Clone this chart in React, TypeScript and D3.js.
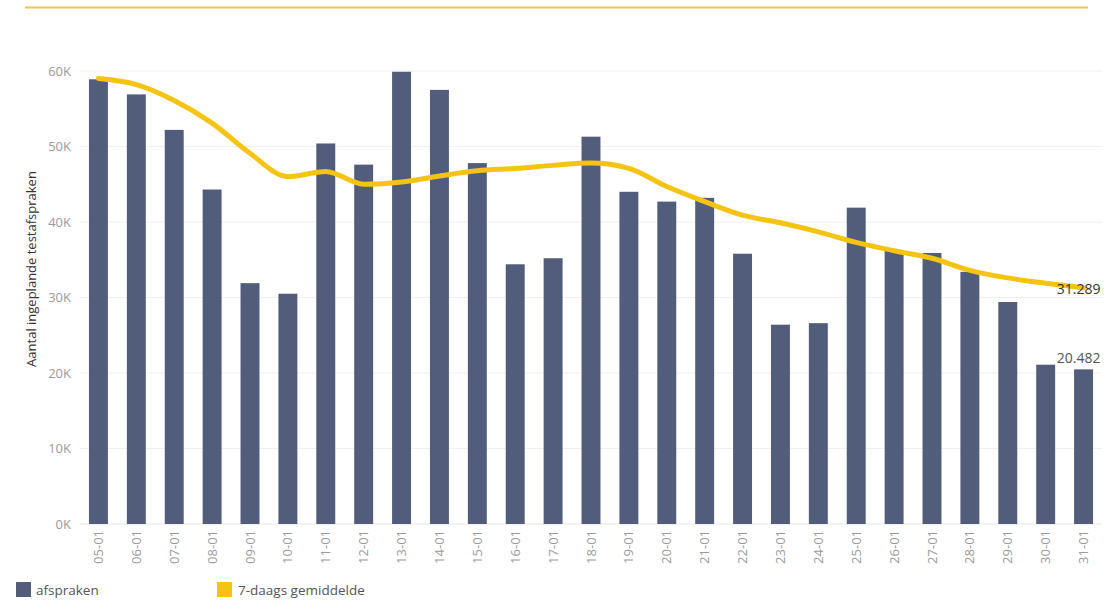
import React from 'react';
import * as d3 from 'd3';

const dates = [
  '05-01', '06-01', '07-01', '08-01', '09-01', '10-01', '11-01', '12-01', '13-01',
  '14-01', '15-01', '16-01', '17-01', '18-01', '19-01', '20-01', '21-01', '22-01',
  '23-01', '24-01', '25-01', '26-01', '27-01', '28-01', '29-01', '30-01', '31-01',
];

const afspraken = [
  58900, 56900, 52200, 44300, 31900, 30500, 50400, 47600, 59900,
  57500, 47800, 34400, 35200, 51300, 44000, 42700, 43200, 35800,
  26400, 26600, 41900, 36300, 35900, 33400, 29400, 21100, 20482,
];

const gemiddelde = [
  59000, 58200, 56100, 53100, 49100, 46000, 46700, 45000, 45300,
  46100, 46800, 47100, 47500, 47800, 47100, 44700, 42700, 40900,
  39900, 38700, 37300, 36200, 35200, 33600, 32600, 31900, 31289,
];

const yTicks = [0, 10000, 20000, 30000, 40000, 50000, 60000];

const BAR = '#525d7c';
const GOLD = '#f5c412';
const FONT = '"Open Sans", "Noto Sans", sans-serif';

const W = 1104;
const H = 601;
const left = 79.5;
const right = 1102.5;
const top = 71;
const bottom = 524;

export default function App() {
  const x = d3
    .scaleBand<string>()
    .domain(dates)
    .range([left, right])
    .paddingInner(0.5)
    .paddingOuter(0.25);
  const y = d3.scaleLinear().domain([0, 60000]).range([bottom, top]);

  const cx = (d: string) => (x(d) ?? 0) + x.bandwidth() / 2;

  const line = d3
    .line<number>()
    .x((_, i) => cx(dates[i]))
    .y((v) => y(v))
    .curve(d3.curveMonotoneX);

  const fmt = (v: number) => d3.format(',')(v).replace(/,/g, '.');
  const last = dates[dates.length - 1];

  return (
    <svg
      width={W}
      height={H}
      style={{position: 'absolute', left: 0, top: 0, background: '#fff'}}
      fontFamily={FONT}
    >
      {/* top rule */}
      <line x1={25} x2={1088} y1={7.5} y2={7.5} stroke="#f0c34a" strokeWidth={2} />

      {/* grid */}
      {yTicks.map((t) => (
        <line
          key={t}
          x1={left}
          x2={1102}
          y1={y(t)}
          y2={y(t)}
          stroke={t === 0 ? '#e6e6e6' : '#f0f0f0'}
          strokeWidth={1}
        />
      ))}

      {/* y tick labels */}
      {yTicks.map((t) => (
        <text
          key={t}
          x={71}
          y={y(t)}
          dy="0.35em"
          textAnchor="end"
          fontSize={13}
          fill="#9a9a9a"
        >
          {`${t / 1000}K`}
        </text>
      ))}

      <text
        transform="translate(36,269) rotate(-90)"
        textAnchor="middle"
        fontSize={13}
        fill="#333"
      >
        Aantal ingeplande testafspraken
      </text>

      {/* bars */}
      {afspraken.map((v, i) => (
        <rect
          key={dates[i]}
          x={x(dates[i])}
          y={y(v)}
          width={x.bandwidth()}
          height={bottom - y(v)}
          fill={BAR}
        />
      ))}

      {/* 7-day average */}
      <path
        d={line(gemiddelde) ?? ''}
        fill="none"
        stroke={GOLD}
        strokeWidth={5}
        strokeLinejoin="round"
        strokeLinecap="round"
      />

      {/* end labels */}
      <text
        x={cx(last) + 17}
        y={y(gemiddelde[gemiddelde.length - 1]) + 1}
        dy="0.35em"
        textAnchor="end"
        fontSize={14}
        fill="#333"
      >
        {fmt(gemiddelde[gemiddelde.length - 1])}
      </text>
      <text
        x={cx(last) + 17}
        y={y(afspraken[afspraken.length - 1]) - 11}
        dy="0.35em"
        textAnchor="end"
        fontSize={14}
        fill="#555"
      >
        {fmt(afspraken[afspraken.length - 1])}
      </text>

      {/* x labels */}
      {dates.map((d) => (
        <text
          key={d}
          transform={`translate(${cx(d)},${bottom + 6}) rotate(-90)`}
          dy="0.35em"
          textAnchor="end"
          fontSize={13}
          fill="#9a9a9a"
        >
          {d}
        </text>
      ))}

      {/* legend */}
      <rect x={16} y={582} width={15} height={15} fill={BAR} />
      <text x={36} y={590} dy="0.35em" fontSize={13.5} fill="#555">
        afspraken
      </text>
      <rect x={217} y={582} width={15} height={15} fill={GOLD} />
      <text x={238} y={590} dy="0.35em" fontSize={13.5} fill="#555">
        7-daags gemiddelde
      </text>
    </svg>
  );
}
